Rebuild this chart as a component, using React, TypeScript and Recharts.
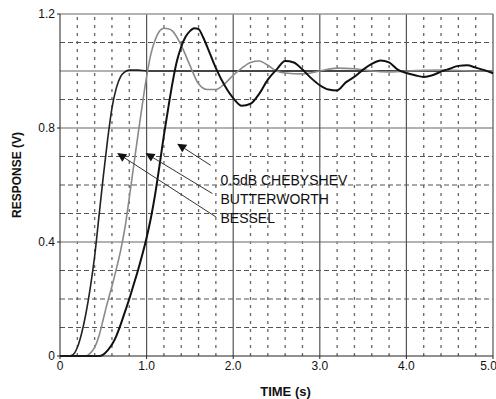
import React from 'react';
import { LineChart, Line, XAxis, YAxis, ReferenceLine, ReferenceDot } from 'recharts';

// step responses
const besselT = [0, 0.1, 0.15, 0.2, 0.25, 0.3, 0.35, 0.4, 0.45, 0.5, 0.55, 0.6, 0.65, 0.7, 0.75, 0.8, 0.9, 1.0, 5.0];
const besselV = [0, 0, 0.005, 0.03, 0.08, 0.15, 0.24, 0.35, 0.49, 0.63, 0.76, 0.87, 0.94, 0.98, 0.997, 1.003, 1.003, 1.0, 1.0];

const butterT = [0, 0.3, 0.35, 0.4, 0.45, 0.5, 0.55, 0.6, 0.65, 0.7, 0.75, 0.8, 0.85, 0.9, 0.95, 1.0, 1.05, 1.1, 1.15, 1.2, 1.25, 1.3, 1.4, 1.5, 1.6, 1.7, 1.8, 1.9, 2.0, 2.1, 2.2, 2.3, 2.4, 2.5, 2.6, 2.8, 3.0, 3.2, 3.4, 3.6, 3.8, 4.0, 4.4, 4.8, 5.0];
const butterV = [0, 0, 0.01, 0.03, 0.07, 0.13, 0.19, 0.245, 0.305, 0.37, 0.45, 0.555, 0.665, 0.775, 0.88, 0.98, 1.06, 1.11, 1.14, 1.15, 1.148, 1.14, 1.09, 1.02, 0.955, 0.935, 0.935, 0.955, 0.985, 1.01, 1.03, 1.035, 1.02, 1.0, 0.993, 0.99, 1.0, 1.01, 1.008, 1.0, 0.997, 1.0, 1.003, 1.0, 1.0];

const chebyT = [0, 0.45, 0.5, 0.55, 0.6, 0.65, 0.7, 0.75, 0.8, 0.85, 0.9, 0.95, 1.0, 1.05, 1.1, 1.15, 1.2, 1.25, 1.3, 1.35, 1.4, 1.45, 1.5, 1.55, 1.6, 1.65, 1.7, 1.8, 1.9, 2.0, 2.1, 2.2, 2.3, 2.4, 2.5, 2.6, 2.7, 2.8, 2.9, 3.0, 3.1, 3.2, 3.3, 3.4, 3.5, 3.6, 3.7, 3.8, 3.9, 4.0, 4.1, 4.2, 4.3, 4.4, 4.5, 4.6, 4.7, 4.8, 4.9, 5.0];
const chebyV = [0, 0, 0.005, 0.02, 0.04, 0.07, 0.11, 0.155, 0.2, 0.25, 0.3, 0.355, 0.415, 0.485, 0.57, 0.67, 0.775, 0.87, 0.96, 1.035, 1.085, 1.12, 1.14, 1.15, 1.147, 1.12, 1.085, 1.01, 0.95, 0.905, 0.878, 0.885, 0.92, 0.97, 1.005, 1.035, 1.03, 1.005, 0.975, 0.95, 0.935, 0.932, 0.96, 0.98, 1.005, 1.025, 1.037, 1.03, 1.005, 0.993, 0.985, 0.979, 0.985, 0.998, 1.008, 1.018, 1.02, 1.012, 1.003, 0.992];

const xTicks = [0, 1, 2, 3, 4, 5];
const yTicks = [0, 0.4, 0.8, 1.2];
const xMajor = [1, 2, 3, 4];
const xMinor = [0.2, 0.4, 0.6, 0.8, 1.2, 1.4, 1.6, 1.8, 2.2, 2.4, 2.6, 2.8, 3.2, 3.4, 3.6, 3.8, 4.2, 4.4, 4.6, 4.8];
const yMajor = [0.4, 0.8, 1.0];
const yMinor = [0.1, 0.2, 0.3, 0.5, 0.6, 0.7, 0.9, 1.1];

// arrows from the labels to the curves: [tail t, tail v, head t, head v]
const labels = ['0.5dB CHEBYSHEV', 'BUTTERWORTH', 'BESSEL'];
const labelAt = [[1.853, 0.617], [1.853, 0.55], [1.853, 0.483]];
const arrows = [
  [1.74, 0.669, 1.353, 0.745],
  [1.76, 0.57, 0.987, 0.712],
  [1.8, 0.488, 0.66, 0.712],
];

const toRows = (ts: number[], vs: number[]) => ts.map((t, i) => ({ t, v: vs[i] }));
const bessel = toRows(besselT, besselV);
const butter = toRows(butterT, butterV);
const cheby = toRows(chebyT, chebyV);

const FONT = 'Liberation Sans, Arial, sans-serif';
const fmt = (v: number) => (v === 0 ? '0' : v.toFixed(1));

const Arrow = (p: any) => {
  const { x1, y1, x2, y2 } = p;
  if (x1 == null) return null;
  const ang = Math.atan2(y2 - y1, x2 - x1);
  const L = 9, W = 4.5;
  const bx = x2 - L * Math.cos(ang), by = y2 - L * Math.sin(ang);
  const px = -Math.sin(ang) * W, py = Math.cos(ang) * W;
  return (
    <g>
      <line x1={x1} y1={y1} x2={bx} y2={by} stroke="#333" strokeWidth={1} />
      <polygon points={`${x2},${y2} ${bx + px},${by + py} ${bx - px},${by - py}`} fill="#111" />
    </g>
  );
};

export default function App() {
  return (
    <div style={{ position: 'absolute', left: 0, top: 0, background: '#fff' }}>
      <LineChart width={496} height={399} margin={{ top: 14, right: 3, bottom: 0, left: 0 }}>
        <XAxis
          type="number"
          dataKey="t"
          domain={[0, 5]}
          ticks={xTicks}
          tickFormatter={fmt}
          height={43}
          tickSize={3}
          stroke="#222"
          tick={{ fill: '#111', fontSize: 12, fontFamily: FONT }}
          allowDuplicatedCategory={false}
          label={{ value: 'TIME (s)', position: 'insideBottom', offset: 3, dx: 9, fill: '#111', fontSize: 13, fontWeight: 'bold', fontFamily: FONT }}
        />
        <YAxis
          type="number"
          domain={[0, 1.2]}
          ticks={yTicks}
          tickFormatter={fmt}
          width={60}
          tickSize={3}
          stroke="#222"
          tick={{ fill: '#111', fontSize: 12, fontFamily: FONT }}
          label={{ value: 'RESPONSE (V)', angle: -90, position: 'insideLeft', dx: 12, dy: -10, fill: '#111', fontSize: 12, fontWeight: 'bold', fontFamily: FONT, textAnchor: 'middle' }}
        />
        {xMinor.map((x) => (
          <ReferenceLine key={'xm' + x} x={x} stroke="#666" strokeWidth={1.3} strokeDasharray="3 5" />
        ))}
        {yMinor.map((y) => (
          <ReferenceLine key={'ym' + y} y={y} stroke="#555" strokeWidth={1.2} strokeDasharray="5 3" />
        ))}
        {yMajor.map((y) => (
          <ReferenceLine key={'yM' + y} y={y} stroke="#999" strokeWidth={1.6} />
        ))}
        {xMajor.map((x) => (
          <ReferenceLine key={'xM' + x} x={x} stroke="#555" strokeWidth={1.2} />
        ))}
        <ReferenceLine y={1.2} stroke="#999" strokeWidth={1.5} />
        <ReferenceLine x={5} stroke="#777" strokeWidth={1.5} />
        <Line data={bessel} dataKey="v" type="monotone" stroke="#222" strokeWidth={1.6} dot={false} isAnimationActive={false} />
        <Line data={butter} dataKey="v" type="monotone" stroke="#8a8a8a" strokeWidth={1.6} dot={false} isAnimationActive={false} />
        <Line data={cheby} dataKey="v" type="monotone" stroke="#111" strokeWidth={2} dot={false} isAnimationActive={false} />
        {arrows.map((a, i) => (
          <ReferenceLine
            key={'ar' + i}
            segment={[{ x: a[0], y: a[1] }, { x: a[2], y: a[3] }]}
            shape={Arrow}
          />
        ))}
        {labels.map((s, i) => (
          <ReferenceDot
            key={'lb' + i}
            x={labelAt[i][0]}
            y={labelAt[i][1]}
            r={0}
            shape={(p: any) => (
              <text x={p.cx} y={p.cy} dominantBaseline="central" fontSize={14} fontFamily={FONT} fill="#111">
                {s}
              </text>
            )}
          />
        ))}
      </LineChart>
    </div>
  );
}
